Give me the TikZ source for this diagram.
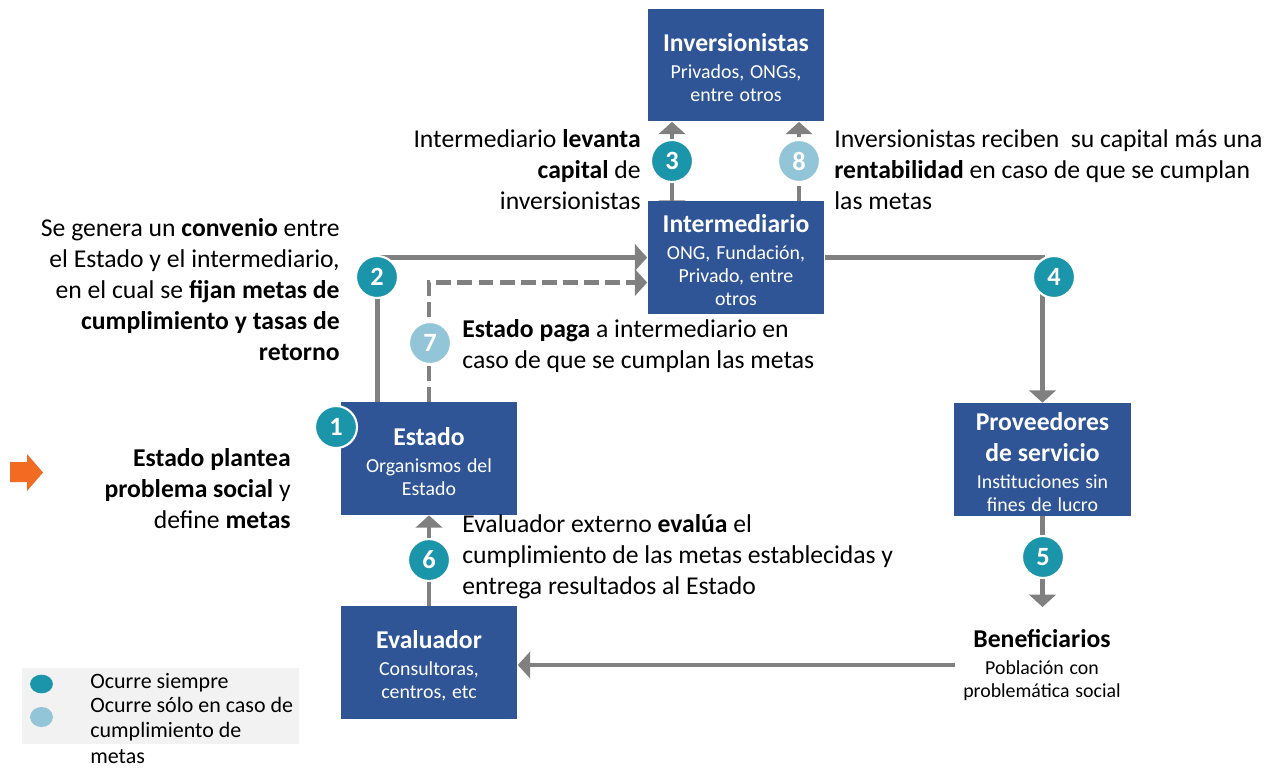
\documentclass[tikz,border=0pt]{standalone}
\usepackage{fontspec}
\setmainfont{Carlito}
\usetikzlibrary{arrows.meta,calc,backgrounds}
\definecolor{boxblue}{RGB}{47,85,151}
\definecolor{tealc}{RGB}{27,149,170}
\definecolor{lightc}{RGB}{146,197,215}
\definecolor{linegray}{RGB}{128,128,128}
\definecolor{orangec}{RGB}{242,107,35}
\definecolor{legbg}{RGB}{242,242,242}
\newcommand\bxt[2]{{\fontsize{14.6}{17.6}\selectfont\bfseries\noindent #1\par}\vspace{2.3pt}{\fontsize{11.3}{13.1}\selectfont\noindent #2\par}\vspace{-3.4pt}}
\newcommand\fstrut{\rule{0pt}{12pt}}
\newcommand\lstrut{\rule{0pt}{10pt}}
\begin{document}
\begin{tikzpicture}[x=0.02cm,y=-0.02cm,
  actor/.style={rectangle, fill=boxblue, text=white, minimum width=3.54cm, minimum height=2.26cm, text width=3.4cm, align=center, inner sep=0pt},
  num/.style={circle, fill=tealc, draw=white, line width=1.2pt, minimum size=0.84cm, inner sep=0pt, text=white, font=\fontsize{15}{17.6}\selectfont\bfseries},
  numlight/.style={num, fill=lightc},
  conn/.style={draw=linegray, line width=2.8pt},
  tip/.style={-{Triangle[width=15pt,length=7pt]}},
  bitip/.style={{Triangle[width=15pt,length=7pt]}-{Triangle[width=15pt,length=7pt]}},
  dashline/.style={dash pattern=on 8.5pt off 3.5pt},
  lbl/.style={inner sep=0pt, font=\fontsize{14.6}{17.6}\selectfont},
  leg/.style={inner sep=0pt, anchor=north west, align=left, font=\fontsize{12.5}{14.5}\selectfont},
]
\useasboundingbox (0,0) rectangle (1281,769);

% boxes
\node[actor] (inv) at (736,65) {\bxt{Inversionistas}{Privados, ONGs,\\entre otros}};
\node[actor] (int) at (736,257.5) {\bxt{Intermediario}{ONG, Fundación,\\Privado, entre\\otros}};
\node[actor] (estado) at (429,458.5) {\bxt{Estado}{Organismos del\\Estado}};
\node[actor] (prov) at (1042.5,459.5) {\bxt{Proveedores\\de servicio}{Instituciones sin\\fines de lucro}};
\node[actor] (eval) at (429,662.5) {\bxt{Evaluador}{Consultoras,\\centros, etc}};
\node[inner xsep=4pt, inner ysep=0pt, text width=3.2cm, align=center] (benef) at (1042,665) {\bxt{Beneficiarios}{Población con\\problemática social}};
\coordinate (e5) at (1042.5,607);

% connectors
\begin{pgfonlayer}{background}
\draw[conn, tip] ($(estado.north west)+(37,0)$) |- (int.west);
\draw[conn, tip, dashline] (estado.north) |- ($(int.west)+(0,25)$);
\draw[conn, bitip] ($(int.north)+(-64,12)$) -- ($(inv.south)+(-64,0)$);
\draw[conn, tip, dashline] ($(int.north)+(63,0)$) -- ($(inv.south)+(63,0)$);
\draw[conn, tip] (int.east) -| (prov.north);
\draw[conn, tip] (prov.south) -- (e5);
\draw[conn, tip] (benef.west) -- (benef.west -| eval.east);
\draw[conn, tip] (eval.north) -- (estado.south);
\end{pgfonlayer}

% numbered circles
\node[num] (n1) at (336,427) {1};
\node[num] (n2) at (377,277) {2};
\node[num] (n3) at (672,161) {3};
\node[num] (n4) at (1054,277) {4};
\node[num] (n5) at (1043,557) {5};
\node[num] (n6) at (429,560) {6};
\node[numlight] (n7) at (430,343) {7};
\node[numlight] (n8) at (799,161) {8};

% labels
\node[lbl, anchor=north east, align=right] (t3) at (641,125.9) {\fstrut Intermediario \textbf{levanta}\\\textbf{capital} de\\inversionistas};
\node[lbl, anchor=north west, align=left] (t8) at (834,125.9) {\fstrut Inversionistas reciben\ \ su capital más una\\\textbf{rentabilidad} en caso de que se cumplan\\las metas};
\node[lbl, anchor=north east, align=right] (t2) at (340,214.9) {\fstrut Se genera un \textbf{convenio} entre\\el Estado y el intermediario,\\en el cual se \textbf{fijan metas de}\\\textbf{cumplimiento y tasas de}\\\textbf{retorno}};
\node[lbl, anchor=north west, align=left] (t7) at (462,315.9) {\fstrut\textbf{Estado paga} a intermediario en\\caso de que se cumplan las metas};
\node[lbl, anchor=north east, align=right] (t1) at (291,444.9) {\fstrut\textbf{Estado plantea}\\\textbf{problema social} y\\define \textbf{metas}};
\node[lbl, anchor=north west, align=left] (t6) at (462,510.9) {\fstrut Evaluador externo \textbf{evalúa} el\\cumplimiento de las metas establecidas y\\entrega resultados al Estado};

% orange arrow
\fill[orangec] (10,462) -- (27,462) -- (27,454) -- (43,472.5) -- (27,491) -- (27,482) -- (10,482) -- cycle;

% legend
\fill[legbg] (22,668) rectangle (299,744);
\fill[tealc] (41.5,684) ellipse [x radius=6.5pt, y radius=5.3pt];
\fill[lightc] (41.5,717) ellipse [x radius=6.5pt, y radius=5.7pt];
\node[leg] (leg1) at (90,670.4) {\lstrut Ocurre siempre};
\node[leg] (leg2) at (90,694.4) {\lstrut Ocurre sólo en caso de\\cumplimiento de\\metas};
\end{tikzpicture}
\end{document}
